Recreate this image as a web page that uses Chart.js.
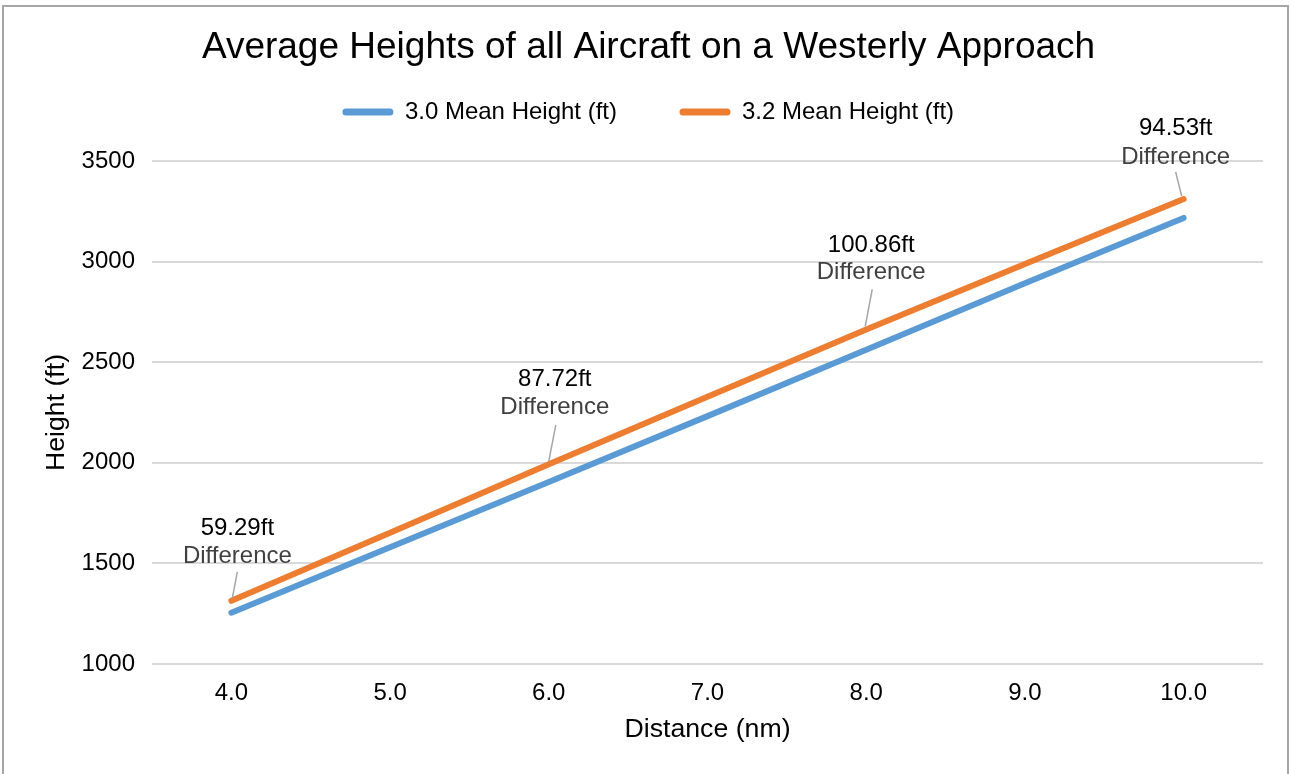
<!DOCTYPE html>
<html>
<head>
<meta charset="utf-8">
<script src="https://cdn.jsdelivr.net/npm/chart.js@4.4.1/dist/chart.umd.min.js"></script>
<style>
  html, body { margin: 0; padding: 0; background: #fff; overflow: hidden; }
  #wrap { position: relative; width: 1291px; height: 774px; }
  #frame { position: absolute; left: 2px; top: 5px; width: 1283px; height: 800px;
           border: 2px solid #a6a6a6; border-bottom: none; pointer-events: none; }
  canvas { position: absolute; left: 0; top: 0; }
</style>
</head>
<body>
<div id="wrap">
  <canvas id="heightChart" width="1291" height="774"></canvas>
  <div id="frame"></div>
</div>
<script>
// Chart data
const distances = ['4.0', '5.0', '6.0', '7.0', '8.0', '9.0', '10.0'];
const mean30 = [1255, 1580, 1905, 2232, 2562, 2892, 3217];
const mean32 = [1314, 1652, 1993, 2328, 2663, 2988, 3311];
const seriesNames = ['3.0 Mean Height (ft)', '3.2 Mean Height (ft)'];
const yMin = 1000, yMax = 3500, yStep = 500;

// Difference callouts (attached to the 3.2 line)
const diffIndex = [0, 2, 4, 6];
const diffText = ['59.29ft', '87.72ft', '100.86ft', '94.53ft'];

const FONT = '"Liberation Sans", Arial, sans-serif';
Chart.defaults.font.family = FONT;
Chart.defaults.color = '#000';

// label placement relative to the data point (px)
const calloutPos = [
    { dx: 6, dy1: -72, dy2: -44, lx1: 6, ly1: -29, lx2: 1, ly2: -3 },
    { dx: 6, dy1: -85, dy2: -57, lx1: 7, ly1: -39, lx2: 0, ly2: -3 },
    { dx: 5, dy1: -84, dy2: -57, lx1: 6, ly1: -40, lx2: -1, ly2: -3 },
    { dx: -8, dy1: -71, dy2: -42, lx1: -8, ly1: -27, lx2: -2, ly2: -3 }
];

const calloutPlugin = {
    id: 'callouts',
    afterDatasetsDraw(chart) {
        const ctx = chart.ctx;
        const meta = chart.getDatasetMeta(1);
        ctx.save();
        diffIndex.forEach((idx, i) => {
            const pt = meta.data[idx];
            const p = calloutPos[i];
            ctx.strokeStyle = '#a6a6a6';
            ctx.lineWidth = 1.5;
            ctx.beginPath();
            ctx.moveTo(pt.x + p.lx1, pt.y + p.ly1);
            ctx.lineTo(pt.x + p.lx2, pt.y + p.ly2);
            ctx.stroke();
            ctx.textAlign = 'center';
            ctx.textBaseline = 'middle';
            ctx.font = '24px ' + FONT;
            ctx.fillStyle = '#000';
            ctx.fillText(diffText[i], pt.x + p.dx, pt.y + p.dy1);
            ctx.fillStyle = '#404040';
            ctx.fillText('Difference', pt.x + p.dx, pt.y + p.dy2);
        });
        ctx.restore();
    }
};

// Legend drawn by hand so spacing matches the original
const legendPlugin = {
    id: 'lineLegend',
    afterDraw(chart) {
        const ctx = chart.ctx;
        const y = 112, lineLen = 50, gap = 12, itemGap = 63;
        ctx.save();
        ctx.font = '24px ' + FONT;
        const widths = chart.data.datasets.map(ds => ctx.measureText(ds.label).width);
        const total = widths.reduce((a, w) => a + lineLen + gap + w, 0) + itemGap;
        let x = 648.5 - total / 2;
        chart.data.datasets.forEach((ds, i) => {
            ctx.strokeStyle = ds.borderColor;
            ctx.lineWidth = 7;
            ctx.lineCap = 'round';
            ctx.beginPath();
            ctx.moveTo(x + 3, y);
            ctx.lineTo(x + lineLen - 3, y);
            ctx.stroke();
            ctx.fillStyle = '#000';
            ctx.textAlign = 'left';
            ctx.textBaseline = 'middle';
            ctx.fillText(ds.label, x + lineLen + gap, y);
            x += lineLen + gap + widths[i] + itemGap;
        });
        ctx.restore();
    }
};

const ctx = document.getElementById('heightChart').getContext('2d');
new Chart(ctx, {
    type: 'line',
    data: {
        labels: distances,
        datasets: [
            {
                label: seriesNames[0],
                data: mean30,
                borderColor: '#5b9bd5',
                borderWidth: 6,
                borderCapStyle: 'round',
                borderJoinStyle: 'round',
                pointRadius: 0,
                tension: 0
            },
            {
                label: seriesNames[1],
                data: mean32,
                borderColor: '#ed7d31',
                borderWidth: 6,
                borderCapStyle: 'round',
                borderJoinStyle: 'round',
                pointRadius: 0,
                tension: 0
            }
        ]
    },
    options: {
        responsive: false,
        animation: false,
        layout: { padding: { top: 0, right: 28, bottom: 0, left: 34 } },
        plugins: {
            legend: { display: false },
            tooltip: { enabled: false },
            title: {
                display: true,
                text: 'Average Heights of all Aircraft on a Westerly Approach',
                color: '#000',
                font: { size: 37, weight: 'normal' },
                padding: { top: 26, bottom: 90.6 }
            }
        },
        scales: {
            x: {
                offset: true,
                grid: { display: false, drawTicks: false },
                border: { display: false },
                ticks: { color: '#000', font: { size: 24 }, padding: 15, maxRotation: 0 },
                title: {
                    display: true,
                    text: 'Distance (nm)',
                    color: '#000',
                    font: { size: 26.7 },
                    padding: { top: 0, bottom: 28 }
                },
                afterFit: (axis) => { axis.height = 110; }
            },
            y: {
                min: yMin,
                max: yMax,
                grid: { color: '#d9d9d9', lineWidth: 2, drawTicks: false },
                border: { display: false },
                ticks: {
                    stepSize: yStep, color: '#000', font: { size: 24 }, padding: 17,
                    callback: (value) => String(value)
                },
                title: {
                    display: true,
                    text: 'Height (ft)',
                    color: '#000',
                    font: { size: 26.7 },
                    padding: { top: 7, bottom: 0 }
                },
                afterFit: (axis) => { axis.width = 118; }
            }
        }
    },
    plugins: [calloutPlugin, legendPlugin]
});
</script>
</body>
</html>
